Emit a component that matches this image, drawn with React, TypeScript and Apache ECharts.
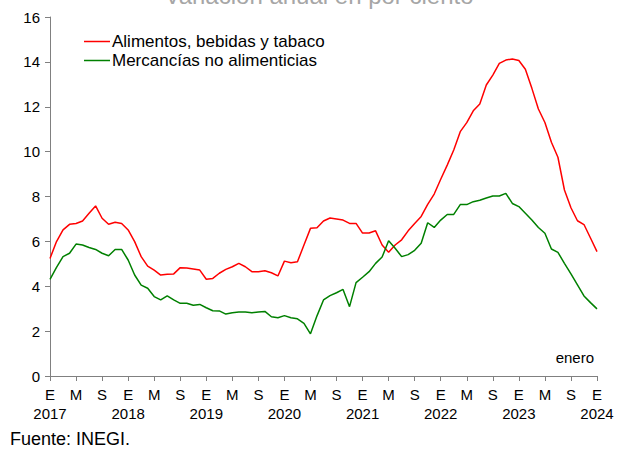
import React, { useEffect, useRef } from "react";
import * as echarts from "echarts";

const years = [2017, 2018, 2019, 2020, 2021, 2022, 2023, 2024];
const monthLetters = ["E", "F", "M", "A", "M", "J", "J", "A", "S", "O", "N", "D"];

const alimentos = [
  5.24, 5.99, 6.51, 6.76, 6.8, 6.91, 7.25, 7.58, 7.03, 6.76, 6.85, 6.8,
  6.51, 5.99, 5.32, 4.9, 4.72, 4.5, 4.53, 4.55, 4.83, 4.81, 4.77, 4.72,
  4.31, 4.35, 4.58, 4.75, 4.87, 5.02, 4.87, 4.65, 4.65, 4.69, 4.6, 4.46,
  5.12, 5.05, 5.09, 5.84, 6.58, 6.61, 6.91, 7.04, 7.0, 6.95, 6.8, 6.8,
  6.37, 6.37, 6.47, 5.84, 5.52, 5.84, 6.07, 6.47, 6.8, 7.11, 7.65, 8.11,
  8.77, 9.4, 10.07, 10.89, 11.29, 11.82, 12.12, 12.97, 13.41, 13.93, 14.08, 14.13,
  14.06, 13.67, 12.82, 11.9, 11.3, 10.42, 9.75, 8.29, 7.5, 6.92, 6.75, 6.15,
  5.54,
];

const mercancias = [
  4.31, 4.84, 5.32, 5.47, 5.88, 5.84, 5.73, 5.64, 5.47, 5.36, 5.64, 5.64,
  5.17, 4.5, 4.05, 3.91, 3.54, 3.39, 3.57, 3.39, 3.24, 3.24, 3.15, 3.19,
  3.04, 2.91, 2.9, 2.76, 2.82, 2.85, 2.85, 2.82, 2.85, 2.88, 2.64, 2.6,
  2.69, 2.6, 2.55, 2.35, 1.88, 2.68, 3.39, 3.58, 3.71, 3.86, 3.09, 4.16,
  4.4, 4.65, 5.02, 5.3, 6.03, 5.69, 5.32, 5.41, 5.6, 5.92, 6.83, 6.62,
  6.95, 7.2, 7.2, 7.64, 7.64, 7.77, 7.83, 7.93, 8.02, 8.02, 8.14, 7.69,
  7.55, 7.25, 6.95, 6.62, 6.36, 5.66, 5.51, 5.02, 4.55, 4.06, 3.57, 3.27,
  2.99,
];

const categories: string[] = alimentos.map((_, i) => {
  const y = years[0] + Math.floor(i / 12);
  const m = i % 12;
  return `${y}-${m}`;
});

const FONT = "'Liberation Sans', Arial, sans-serif";

export default function App() {
  const ref = useRef<HTMLDivElement>(null);
  useEffect(() => {
    if (!ref.current) return;
    const chart = echarts.init(ref.current, undefined, { renderer: "svg" });
    chart.setOption({
      animation: false,
      backgroundColor: "#ffffff",
      textStyle: { fontFamily: FONT },
      grid: { left: 50, right: 29, top: 17, bottom: 75, containLabel: false },
      legend: {
        orient: "vertical",
        left: 79,
        top: 28,
        itemWidth: 26,
        itemHeight: 1.5,
        itemGap: 2,
        icon: "rect",
        textStyle: { fontFamily: FONT, fontSize: 17, lineHeight: 17, color: "#000", padding: [0, 0, 0, -3] },
        data: ["Alimentos, bebidas y tabaco", "Mercancías no alimenticias"],
      },
      xAxis: {
        type: "category",
        data: categories,
        boundaryGap: false,
        axisLine: { lineStyle: { color: "#808080", width: 1 } },
        axisTick: { show: true, interval: 3, length: 5, lineStyle: { color: "#808080" } },
        axisLabel: {
          interval: 3,
          margin: 9,
          fontFamily: FONT,
          fontSize: 15,
          color: "#000",
          lineHeight: 19,
          verticalAlign: "top",
          formatter: (v: string) => {
            const [y, m] = v.split("-").map(Number);
            if (m === 0) return `${monthLetters[m]}\n${y}`;
            return monthLetters[m];
          },
        },
        splitLine: { show: false },
      },
      yAxis: {
        type: "value",
        min: 0,
        max: 16,
        interval: 2,
        axisLine: { show: true, lineStyle: { color: "#808080", width: 1 } },
        axisTick: { show: true, length: 5, lineStyle: { color: "#808080" } },
        axisLabel: { fontFamily: FONT, fontSize: 15, color: "#000", margin: 10 },
        splitLine: { show: false },
      },
      series: [
        {
          name: "Alimentos, bebidas y tabaco",
          type: "line",
          data: alimentos,
          symbol: "none",
          lineStyle: { color: "#ff0000", width: 1.5 },
          itemStyle: { color: "#ff0000" },
        },
        {
          name: "Mercancías no alimenticias",
          type: "line",
          data: mercancias,
          symbol: "none",
          lineStyle: { color: "#008000", width: 1.5 },
          itemStyle: { color: "#008000" },
        },
      ],
      graphic: [
        {
          type: "text",
          x: 319,
          y: -17,
          style: {
            text: "Variación anual en por ciento",
            fontFamily: FONT,
            fontSize: 24,
            fill: "#a6a6a6",
            textAlign: "center",
            textVerticalAlign: "top",
          },
        },
        {
          type: "text",
          right: 32,
          top: 350,
          style: { text: "enero", fontFamily: FONT, fontSize: 15, fill: "#000" },
        },
        {
          type: "text",
          left: 10,
          top: 430,
          style: { text: "Fuente: INEGI.", fontFamily: FONT, fontSize: 18, fill: "#000" },
        },
      ],
    });
    return () => chart.dispose();
  }, []);
  return <div ref={ref} style={{ width: 626, height: 451, position: "absolute", left: 0, top: 0 }} />;
}
